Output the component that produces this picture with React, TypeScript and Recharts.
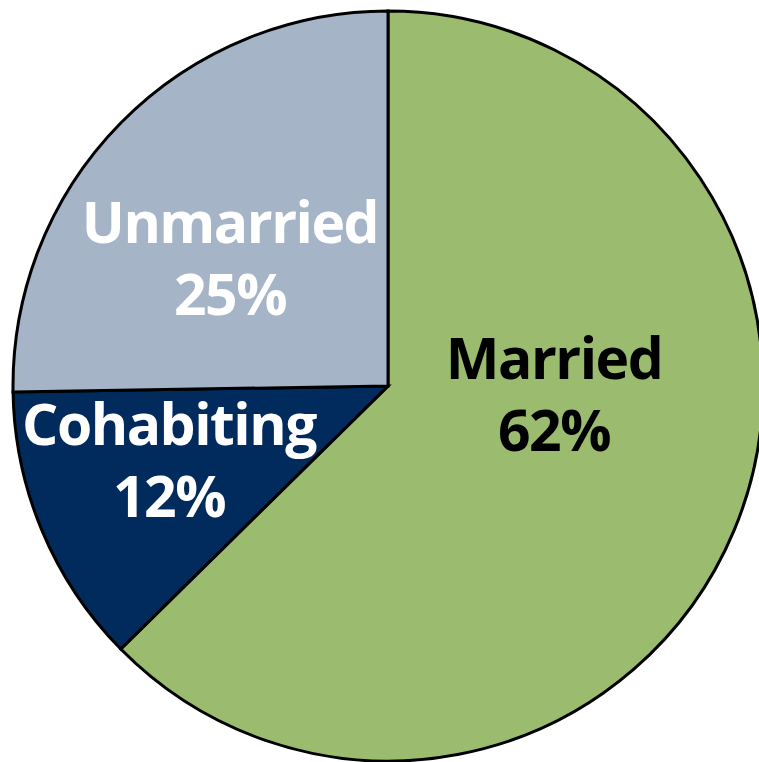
import React from "react";
import { PieChart, Pie, Cell } from "recharts";

const categories = ["Married", "Cohabiting", "Unmarried"];
const values = [62, 12, 25];
const colors = ["#9BBB6E", "#002B5C", "#A5B4C6"];
const textColors = ["#000000", "#FFFFFF", "#FFFFFF"];

const data = categories.map((name, i) => ({ name, value: values[i] }));

// label baseline offsets relative to pie centre (layout, not data)
const labelOffsets: Record<string, [number, number]> = {
  Married: [166, -7],
  Cohabiting: [-219, 59],
  Unmarried: [-158, -143],
};

const renderLabel = (props: any) => {
  const { cx, cy, index, name, value } = props;
  const [dx, dy] = labelOffsets[name];
  const x = cx + dx;
  const y = cy + dy;
  const style = {
    fontFamily: "'Open Sans', sans-serif",
    fontWeight: 700,
    fontSize: 57,
    letterSpacing: -1.5,
  };
  return (
    <g>
      <text x={x} y={y} textAnchor="middle" fill={textColors[index]} style={style}>
        {name}
      </text>
      <text x={x} y={y + 72} textAnchor="middle" fill={textColors[index]} style={style}>
        {`${value}%`}
      </text>
    </g>
  );
};

export default function App() {
  return (
    <div style={{ position: "absolute", left: 0, top: 0, width: 759, height: 762, background: "#fff" }}>
      <PieChart width={759} height={762} margin={{ top: 0, right: 0, bottom: 0, left: 0 }}>
        <Pie
          data={data}
          dataKey="value"
          nameKey="name"
          cx={388}
          cy={386}
          outerRadius={375}
          startAngle={90}
          endAngle={-270}
          stroke="#000"
          strokeWidth={3}
          label={renderLabel}
          labelLine={false}
          isAnimationActive={false}
        >
          {data.map((d, i) => (
            <Cell key={d.name} fill={colors[i]} />
          ))}
        </Pie>
      </PieChart>
    </div>
  );
}
